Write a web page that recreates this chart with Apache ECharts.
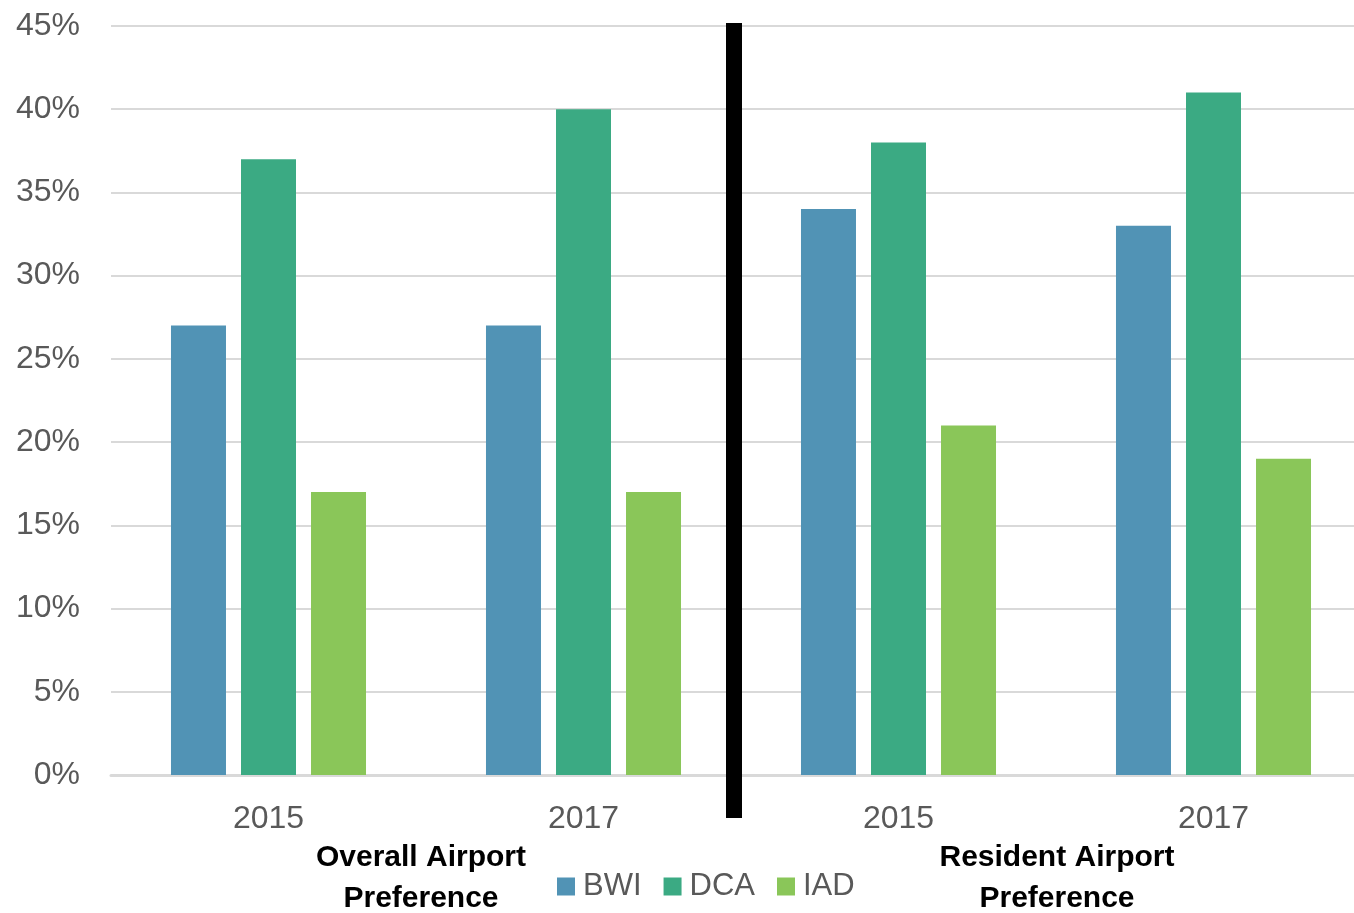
<!DOCTYPE html>
<html>
<head>
<meta charset="utf-8">
<style>
  html, body { margin: 0; padding: 0; background: #ffffff; }
  #chart { width: 1354px; height: 913px; }
</style>
<script src="https://cdn.jsdelivr.net/npm/echarts@6/dist/echarts.min.js"></script>
</head>
<body>
<div id="chart"></div>
<script>
// Survey years: overall preference (first two), resident preference (last two)
const categories = ['2015', '2017', '2015', '2017'];
const bwiValues = [27, 27, 34, 33];
const dcaValues = [37, 40, 38, 41];
const iadValues = [17, 17, 21, 19];
const yTicks = [0, 5, 10, 15, 20, 25, 30, 35, 40, 45];
const groupTitles = [['Overall Airport', 'Preference'], ['Resident Airport', 'Preference']];

const FONT = '"Liberation Sans", Arial, sans-serif';
const GRAY = '#595959';

const chart = echarts.init(document.getElementById('chart'), null, { renderer: 'canvas' });

const barStyle = { barWidth: 55, barGap: '27.3%', barCategoryGap: '38%' };

function titleText(x, y, text) {
  return {
    type: 'text', x: x, y: y,
    style: {
      text: text, fill: '#000000', font: 'bold 30px ' + FONT,
      textAlign: 'center', textVerticalAlign: 'middle'
    }
  };
}

chart.setOption({
  animation: false,
  backgroundColor: '#ffffff',
  grid: { left: 111, top: 26, width: 1260, height: 749, containLabel: false, outerBoundsMode: 'none' },
  xAxis: {
    type: 'category',
    data: categories,
    axisLine: { lineStyle: { color: '#d9d9d9', width: 3 } },
    axisTick: { show: false },
    axisLabel: { color: GRAY, fontFamily: FONT, fontSize: 32, margin: 28 }
  },
  yAxis: {
    type: 'value',
    min: yTicks[0],
    max: yTicks[yTicks.length - 1],
    interval: 5,
    axisLine: { show: false },
    axisTick: { show: false },
    splitLine: { lineStyle: { color: '#d9d9d9', width: 2 } },
    axisLabel: {
      color: GRAY, fontFamily: FONT, fontSize: 32, margin: 31,
      formatter: v => v + '%'
    }
  },
  legend: {
    data: ['BWI', 'DCA', 'IAD'],
    left: 557,
    top: 871,
    padding: 0,
    itemWidth: 18,
    itemHeight: 18,
    itemGap: 22,
    icon: 'rect',
    textStyle: { color: GRAY, fontFamily: FONT, fontSize: 31, padding: [0, 0, 0, 3] }
  },
  series: [
    Object.assign({ name: 'BWI', type: 'bar', data: bwiValues, itemStyle: { color: '#5193b5' } }, barStyle),
    Object.assign({ name: 'DCA', type: 'bar', data: dcaValues, itemStyle: { color: '#3baa83' } }, barStyle),
    Object.assign({ name: 'IAD', type: 'bar', data: iadValues, itemStyle: { color: '#8ac659' } }, barStyle)
  ],
  graphic: [
    // divider between the overall and resident groups
    { type: 'rect', shape: { x: 726, y: 23, width: 16, height: 795 }, style: { fill: '#000000' }, z: 100 },
    titleText(421, 858, groupTitles[0][0]),
    titleText(421, 899, groupTitles[0][1]),
    titleText(1057, 858, groupTitles[1][0]),
    titleText(1057, 899, groupTitles[1][1])
  ]
});
</script>
</body>
</html>
